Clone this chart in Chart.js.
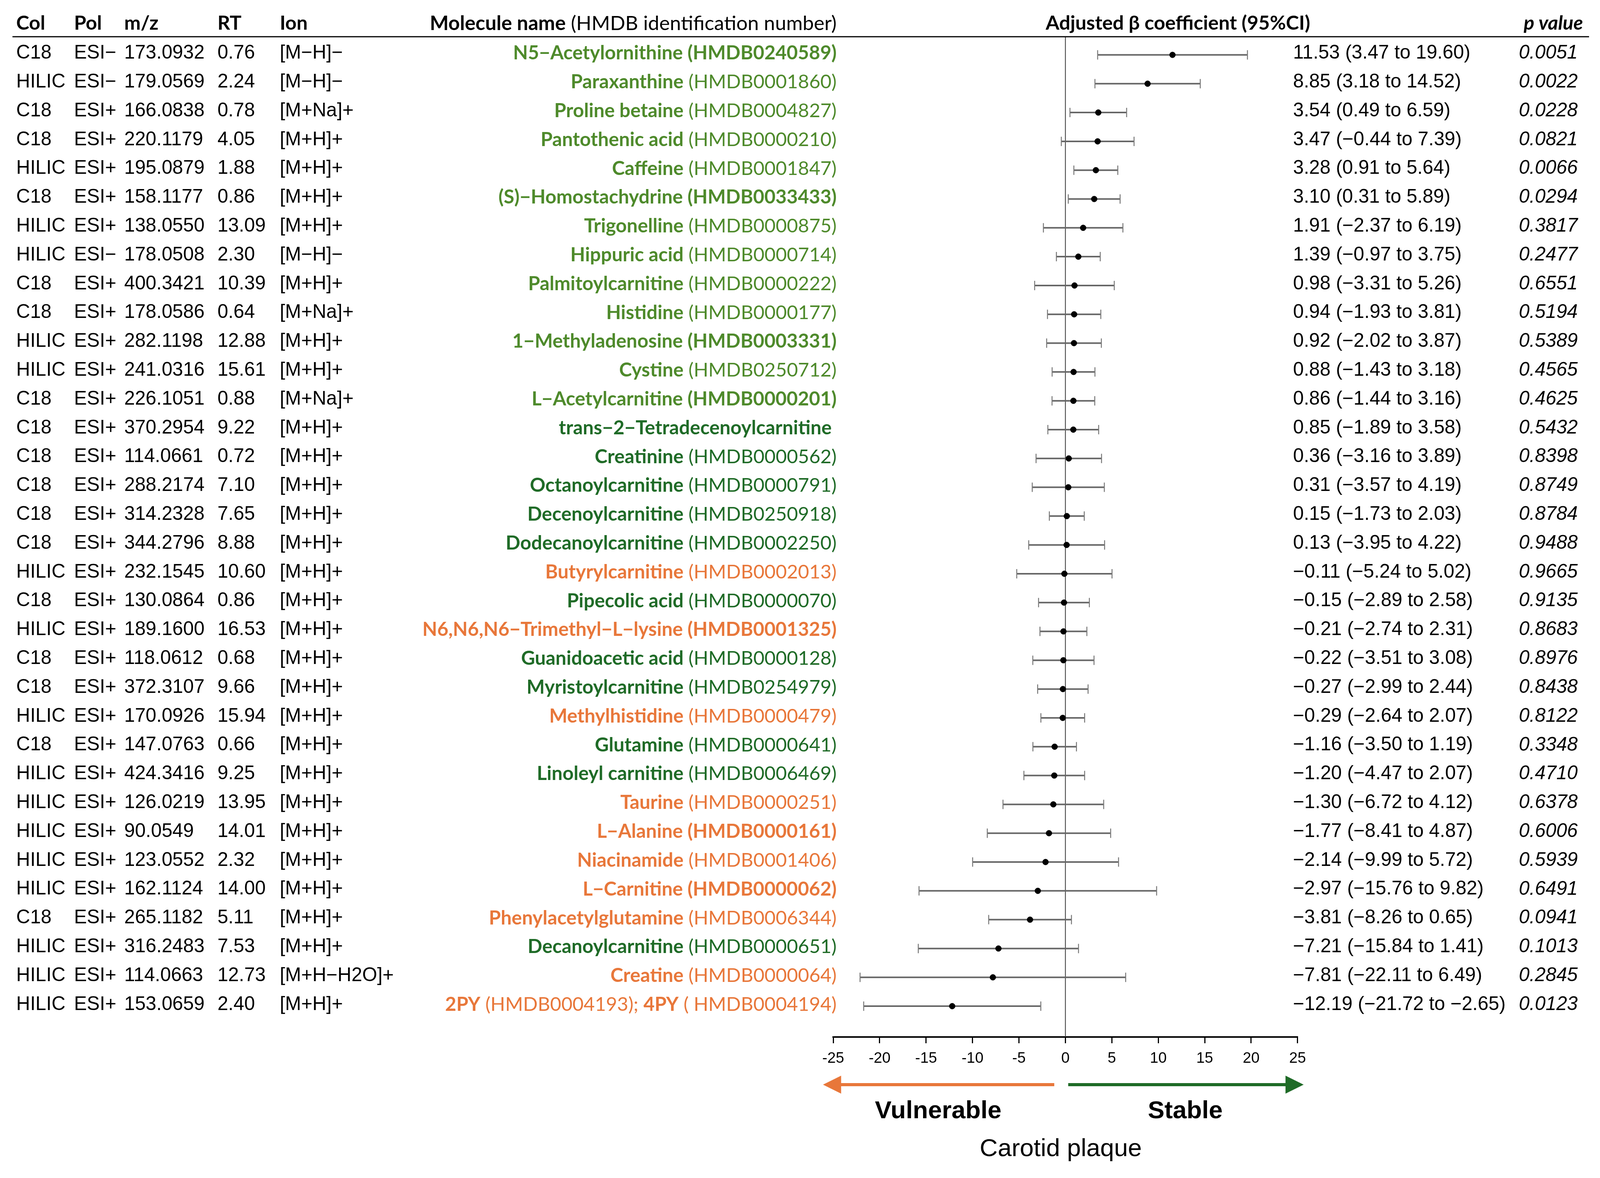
<!DOCTYPE html>
<html>
<head>
<meta charset="utf-8">
<script src="https://cdn.jsdelivr.net/npm/chart.js@4.4.1/dist/chart.umd.min.js"></script>
<style>
  html, body { margin: 0; padding: 0; background: #fff; overflow: hidden; }
  #wrap { width: 100vw; height: 100vh; position: relative; }
  #chart { display: block; }
</style>
</head>
<body>
<div id="wrap"><canvas id="chart"></canvas></div>
<script>
// table columns
var cols = ['C18','HILIC','C18','C18','HILIC','C18','HILIC','HILIC','C18','C18','HILIC','HILIC','C18','C18','C18','C18','C18','C18',
  'HILIC','C18','HILIC','C18','C18','HILIC','C18','HILIC','HILIC','HILIC','HILIC','HILIC','C18','HILIC','HILIC','HILIC'];
var pols = ['ESI−','ESI−','ESI+','ESI+','ESI+','ESI+','ESI+','ESI−','ESI+','ESI+','ESI+','ESI+','ESI+','ESI+','ESI+','ESI+','ESI+',
  'ESI+','ESI+','ESI+','ESI+','ESI+','ESI+','ESI+','ESI+','ESI+','ESI+','ESI+','ESI+','ESI+','ESI+','ESI+','ESI+','ESI+'];
var mz = ['173.0932','179.0569','166.0838','220.1179','195.0879','158.1177','138.0550','178.0508','400.3421','178.0586','282.1198',
  '241.0316','226.1051','370.2954','114.0661','288.2174','314.2328','344.2796','232.1545','130.0864','189.1600','118.0612',
  '372.3107','170.0926','147.0763','424.3416','126.0219','90.0549','123.0552','162.1124','265.1182','316.2483','114.0663','153.0659'];
var rt = ['0.76','2.24','0.78','4.05','1.88','0.86','13.09','2.30','10.39','0.64','12.88','15.61','0.88','9.22','0.72','7.10','7.65',
  '8.88','10.60','0.86','16.53','0.68','9.66','15.94','0.66','9.25','13.95','14.01','2.32','14.00','5.11','7.53','12.73','2.40'];
var ions = ['[M−H]−','[M−H]−','[M+Na]+','[M+H]+','[M+H]+','[M+H]+','[M+H]+','[M−H]−','[M+H]+','[M+Na]+','[M+H]+','[M+H]+',
  '[M+Na]+','[M+H]+','[M+H]+','[M+H]+','[M+H]+','[M+H]+','[M+H]+','[M+H]+','[M+H]+','[M+H]+','[M+H]+','[M+H]+','[M+H]+',
  '[M+H]+','[M+H]+','[M+H]+','[M+H]+','[M+H]+','[M+H]+','[M+H]+','[M+H−H2O]+','[M+H]+'];
// ** marks the bold parts
var molecules = [
  '**N5−Acetylornithine (HMDB0240589)**',
  '**Paraxanthine** (HMDB0001860)',
  '**Proline betaine** (HMDB0004827)',
  '**Pantothenic acid** (HMDB0000210)',
  '**Caffeine** (HMDB0001847)',
  '**(S)−Homostachydrine (HMDB0033433)**',
  '**Trigonelline** (HMDB0000875)',
  '**Hippuric acid** (HMDB0000714)',
  '**Palmitoylcarnitine** (HMDB0000222)',
  '**Histidine** (HMDB0000177)',
  '**1−Methyladenosine (HMDB0003331)**',
  '**Cystine** (HMDB0250712)',
  '**L−Acetylcarnitine (HMDB0000201)**',
  '**trans−2−Tetradecenoylcarnitine** ',
  '**Creatinine** (HMDB0000562)',
  '**Octanoylcarnitine** (HMDB0000791)',
  '**Decenoylcarnitine** (HMDB0250918)',
  '**Dodecanoylcarnitine** (HMDB0002250)',
  '**Butyrylcarnitine** (HMDB0002013)',
  '**Pipecolic acid** (HMDB0000070)',
  '**N6,N6,N6−Trimethyl−L−lysine (HMDB0001325)**',
  '**Guanidoacetic acid** (HMDB0000128)',
  '**Myristoylcarnitine** (HMDB0254979)',
  '**Methylhistidine** (HMDB0000479)',
  '**Glutamine** (HMDB0000641)',
  '**Linoleyl carnitine** (HMDB0006469)',
  '**Taurine** (HMDB0000251)',
  '**L−Alanine (HMDB0000161)**',
  '**Niacinamide** (HMDB0001406)',
  '**L−Carnitine (HMDB0000062)**',
  '**Phenylacetylglutamine** (HMDB0006344)',
  '**Decanoylcarnitine** (HMDB0000651)',
  '**Creatine** (HMDB0000064)',
  '**2PY** (HMDB0004193); **4PY** ( HMDB0004194)'
];
// L = light green, D = dark green, O = orange
var nameGroup = ['L','L','L','L','L','L','L','L','L','L','L','L','L','D','D','D','D','D','O','D','O','D','D','O','D','D',
  'O','O','O','O','O','D','O','O'];
var beta = [11.53,8.85,3.54,3.47,3.28,3.10,1.91,1.39,0.98,0.94,0.92,0.88,0.86,0.85,0.36,0.31,0.15,0.13,-0.11,-0.15,-0.21,
  -0.22,-0.27,-0.29,-1.16,-1.20,-1.30,-1.77,-2.14,-2.97,-3.81,-7.21,-7.81,-12.19];
var ciLow = [3.47,3.18,0.49,-0.44,0.91,0.31,-2.37,-0.97,-3.31,-1.93,-2.02,-1.43,-1.44,-1.89,-3.16,-3.57,-1.73,-3.95,-5.24,
  -2.89,-2.74,-3.51,-2.99,-2.64,-3.50,-4.47,-6.72,-8.41,-9.99,-15.76,-8.26,-15.84,-22.11,-21.72];
var ciHigh = [19.60,14.52,6.59,7.39,5.64,5.89,6.19,3.75,5.26,3.81,3.87,3.18,3.16,3.58,3.89,4.19,2.03,4.22,5.02,2.58,2.31,
  3.08,2.44,2.07,1.19,2.07,4.12,4.87,5.72,9.82,0.65,1.41,6.49,-2.65];
var pValues = ['0.0051','0.0022','0.0228','0.0821','0.0066','0.0294','0.3817','0.2477','0.6551','0.5194','0.5389','0.4565',
  '0.4625','0.5432','0.8398','0.8749','0.8784','0.9488','0.9665','0.9135','0.8683','0.8976','0.8438','0.8122','0.3348',
  '0.4710','0.6378','0.6006','0.5939','0.6491','0.0941','0.1013','0.2845','0.0123'];
var xTicks = [-25,-20,-15,-10,-5,0,5,10,15,20,25];

var palette = { L: '#4E8A2B', D: '#1F6B27', O: '#E8773A' };
var NUM = '"Liberation Sans", Arial, sans-serif';
var NAME = 'Lato, "Open Sans", sans-serif';

// layout is designed on a 4238 x 3016 page and scaled to the real viewport
var sx = 1, sy = 1;
function X(v) { return v * sx; }
function Y(v) { return v * sy; }
function F(v) { return Math.round(v * sx * 10) / 10; }

function fmt(v) { return v.toFixed(2).replace('-', '−'); }

var errorBars = {
  id: 'errorBars',
  beforeDatasetDraw: function(chart, args) {
    if (args.index !== 0) return;
    var ctx = chart.ctx, x = chart.scales.x, y = chart.scales.y;
    ctx.save();
    for (var i = 0; i < beta.length; i++) {
      var yy = y.getPixelForValue(i);
      var x1 = x.getPixelForValue(ciLow[i]), x2 = x.getPixelForValue(ciHigh[i]);
      ctx.strokeStyle = '#666666';
      ctx.lineWidth = 4;
      ctx.beginPath(); ctx.moveTo(x1, yy); ctx.lineTo(x2, yy); ctx.stroke();
      ctx.strokeStyle = '#7a7a7a';
      ctx.lineWidth = 2.5;
      ctx.beginPath();
      ctx.moveTo(x1, yy - Y(12)); ctx.lineTo(x1, yy + Y(12));
      ctx.moveTo(x2, yy - Y(12)); ctx.lineTo(x2, yy + Y(12));
      ctx.stroke();
    }
    ctx.restore();
  }
};

function drawRich(ctx, str, right, yy, size) {
  var parts = str.split('**');
  var widths = [], total = 0;
  for (var k = 0; k < parts.length; k++) {
    ctx.font = (k % 2 ? 'bold ' : '') + size + 'px ' + NAME;
    widths[k] = ctx.measureText(parts[k]).width;
    total += widths[k];
  }
  var xx = right - total;
  ctx.textAlign = 'left';
  for (k = 0; k < parts.length; k++) {
    ctx.font = (k % 2 ? 'bold ' : '') + size + 'px ' + NAME;
    ctx.fillText(parts[k], xx, yy);
    xx += widths[k];
  }
}

var tablePlugin = {
  id: 'table',
  afterDraw: function(chart) {
    var ctx = chart.ctx, x = chart.scales.x, y = chart.scales.y, area = chart.chartArea;
    ctx.save();
    ctx.textBaseline = 'middle';

    // header
    var hy = Y(60);
    ctx.fillStyle = '#000';
    ctx.font = 'bold ' + F(52) + 'px ' + NAME;
    ctx.textAlign = 'left';
    ctx.fillText('Col', X(43), hy);
    ctx.fillText('Pol', X(196), hy);
    ctx.fillText('m/z', X(329), hy);
    ctx.fillText('RT', X(576), hy);
    ctx.fillText('Ion', X(741), hy);
    drawRich(ctx, '**Molecule name** (HMDB identification number)', X(2216), hy, F(53));
    ctx.font = 'bold ' + F(52) + 'px ' + NAME;
    ctx.textAlign = 'center';
    ctx.fillText('Adjusted β coefficient (95%CI)', X(3120), hy);
    ctx.font = 'italic bold ' + F(52) + 'px ' + NAME;
    ctx.textAlign = 'right';
    ctx.fillText('p value', X(4193), hy);
    ctx.strokeStyle = '#000';
    ctx.lineWidth = 3;
    ctx.beginPath(); ctx.moveTo(X(33), Y(94)); ctx.lineTo(X(4209), Y(94)); ctx.stroke();

    // rows
    for (var i = 0; i < beta.length; i++) {
      var yy = y.getPixelForValue(i) - Y(4);
      ctx.fillStyle = '#000';
      ctx.font = F(51) + 'px ' + NUM;
      ctx.textAlign = 'left';
      ctx.fillText(cols[i], X(43), yy);
      ctx.fillText(pols[i], X(196), yy);
      ctx.fillText(mz[i], X(329), yy);
      ctx.fillText(rt[i], X(576), yy);
      ctx.fillText(ions[i], X(741), yy);
      ctx.fillText(fmt(beta[i]) + ' (' + fmt(ciLow[i]) + ' to ' + fmt(ciHigh[i]) + ')', X(3425), yy);
      ctx.font = 'italic ' + F(51) + 'px ' + NUM;
      ctx.fillText(pValues[i], X(4023), yy);
      ctx.fillStyle = palette[nameGroup[i]];
      drawRich(ctx, molecules[i], X(2216), yy, F(51));
    }

    // direction arrows
    var ay = area.bottom + Y(122);
    ctx.fillStyle = '#E8773A';
    var oTip = x.getPixelForValue(-26.1), oEnd = x.getPixelForValue(-1.2);
    ctx.fillRect(oTip + X(45), ay - Y(4), oEnd - oTip - X(45), Y(8));
    ctx.beginPath(); ctx.moveTo(oTip, ay); ctx.lineTo(oTip + X(48), ay - Y(23)); ctx.lineTo(oTip + X(48), ay + Y(23)); ctx.closePath(); ctx.fill();
    ctx.fillStyle = '#1F6B27';
    var gStart = x.getPixelForValue(0.3), gTip = x.getPixelForValue(25.65);
    ctx.fillRect(gStart, ay - Y(4), gTip - gStart - X(45), Y(8));
    ctx.beginPath(); ctx.moveTo(gTip, ay); ctx.lineTo(gTip - X(48), ay - Y(23)); ctx.lineTo(gTip - X(48), ay + Y(23)); ctx.closePath(); ctx.fill();

    ctx.fillStyle = '#000';
    ctx.textAlign = 'center';
    ctx.font = 'bold ' + F(66) + 'px ' + NUM;
    ctx.fillText('Vulnerable', x.getPixelForValue(-13.7), area.bottom + Y(190));
    ctx.fillText('Stable', x.getPixelForValue(12.9), area.bottom + Y(190));
    ctx.font = F(66) + 'px ' + NUM;
    ctx.fillText('Carotid plaque', x.getPixelForValue(-0.5), area.bottom + Y(287));
    ctx.restore();
  }
};

var yTop = -0.63, yBottom = 34.07;

function build() {
  var wrap = document.getElementById('wrap');
  sx = (wrap.clientWidth || 4238) / 4238;
  sy = (wrap.clientHeight || 3016) / 3016;
  var ctx = document.getElementById('chart').getContext('2d');
  new Chart(ctx, {
    type: 'scatter',
    data: {
      datasets: [{
        label: 'beta',
        data: beta.map(function(b, i) { return { x: b, y: i }; }),
        backgroundColor: '#000',
        borderColor: '#000',
        pointRadius: 7.5,
        pointHoverRadius: 7.5,
        order: 1
      }, {
        label: 'zero',
        type: 'line',
        data: [{ x: 0, y: yTop }, { x: 0, y: yBottom }],
        borderColor: '#333333',
        borderWidth: 2,
        pointRadius: 0,
        order: 2
      }]
    },
    options: {
      responsive: true,
      maintainAspectRatio: false,
      animation: false,
      events: [],
      layout: { padding: { left: X(2207), right: X(801), top: Y(94), bottom: Y(261) } },
      plugins: { legend: { display: false }, tooltip: { enabled: false } },
      scales: {
        x: {
          type: 'linear',
          min: -25, max: 25,
          afterBuildTicks: function(s) { s.ticks = xTicks.map(function(v) { return { value: v }; }); },
          afterFit: function(s) { s.height = Y(100); },
          border: { display: true, color: '#000', width: 4 },
          grid: { drawOnChartArea: false, drawTicks: true, tickLength: Y(16), color: '#000', lineWidth: 3 },
          ticks: { color: '#000', padding: Y(16), font: { family: NUM, size: F(40) }, maxRotation: 0,
            callback: function(v) { return String(v); } }
        },
        y: {
          type: 'linear',
          display: false,
          reverse: true,
          min: yTop, max: yBottom
        }
      }
    },
    plugins: [errorBars, tablePlugin]
  });
}

if (document.fonts && document.fonts.load) {
  Promise.all([
    document.fonts.load('48px Lato'), document.fonts.load('bold 48px Lato'), document.fonts.load('italic bold 48px Lato'),
    document.fonts.load('49px "Liberation Sans"'), document.fonts.load('italic 49px "Liberation Sans"'),
    document.fonts.load('bold 64px "Liberation Sans"')
  ]).then(build, build);
} else {
  build();
}
</script>
</body>
</html>
